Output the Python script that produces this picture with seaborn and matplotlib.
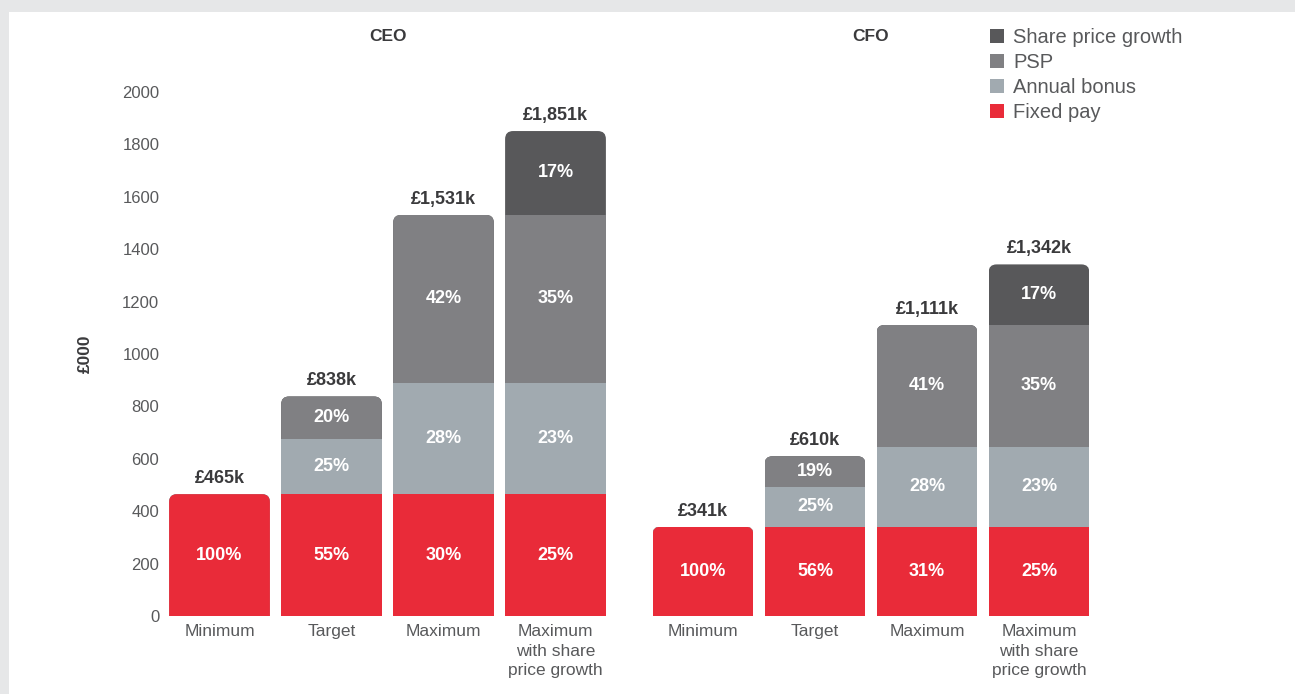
import numpy as np
import pandas as pd
import seaborn as sns
import matplotlib.pyplot as plt
from matplotlib.patches import FancyBboxPatch, Rectangle, Patch

# ---- data (£000) ----
categories = ["Minimum", "Target", "Maximum", "Maximum\nwith share\nprice growth"]
components = ["Fixed pay", "Annual bonus", "PSP", "Share price growth"]

ceo_fixed = [465, 465, 465, 465]
ceo_bonus = [0, 210, 424, 424]
ceo_psp = [0, 163, 642, 642]
ceo_share = [0, 0, 0, 320]
ceo_totals = ["£465k", "£838k", "£1,531k", "£1,851k"]
ceo_fixed_pct = ["100%", "55%", "30%", "25%"]
ceo_bonus_pct = ["", "25%", "28%", "23%"]
ceo_psp_pct = ["", "20%", "42%", "35%"]
ceo_share_pct = ["", "", "", "17%"]

cfo_fixed = [341, 341, 341, 341]
cfo_bonus = [0, 152, 305, 305]
cfo_psp = [0, 117, 465, 465]
cfo_share = [0, 0, 0, 231]
cfo_totals = ["£341k", "£610k", "£1,111k", "£1,342k"]
cfo_fixed_pct = ["100%", "56%", "31%", "25%"]
cfo_bonus_pct = ["", "25%", "28%", "23%"]
cfo_psp_pct = ["", "19%", "41%", "35%"]
cfo_share_pct = ["", "", "", "17%"]

colors = ["#e92b39", "#a1aab0", "#808083", "#58585a"]
text_grey = "#58595b"
dark = "#3a3a3c"

sns.set_theme(style="white")
plt.rcParams['font.family'] = ['Liberation Sans', 'DejaVu Sans']

W, H = 1295, 694
fig = plt.figure(figsize=(W / 100, H / 100), dpi=100)
fig.patch.set_facecolor("#e6e7e8")
fig.add_artist(Rectangle((9 / W, 0), 1 - 9 / W, 1 - 12 / H, transform=fig.transFigure,
                         facecolor="white", edgecolor="none", zorder=0))

ax_w, ax_h = 448, 524
ax1 = fig.add_axes([163.5 / W, 78 / H, ax_w / W, ax_h / H])
ax2 = fig.add_axes([647 / W, 78 / H, ax_w / W, ax_h / H])


def draw(ax, parts, pcts, totals, title):
    df = pd.DataFrame(dict(zip(components, parts)))
    cum = df.cumsum(axis=1)
    # layered bars: tallest (cumulative) first
    for i in reversed(range(len(components))):
        sns.barplot(x=categories, y=cum[components[i]].values, color=colors[i],
                    saturation=1, width=0.9, errorbar=None, linewidth=0, ax=ax)
    ax.set_xlim(-0.5, 3.5)
    ax.set_ylim(0, 2000)

    # rounded top corners: clip every layer that reaches the bar's total
    xpp = 4 / ax_w
    ypp = 2000 / ax_h
    r = 8 * xpp
    for cont in ax.containers:
        for j, bar in enumerate(cont.patches):
            total = cum.iloc[j, -1]
            if bar.get_height() < total - 0.5:
                continue
            x0, w = bar.get_x(), bar.get_width()
            clip = FancyBboxPatch((x0, -total), w, 2 * total,
                                  boxstyle=f"round,pad=0,rounding_size={r}",
                                  mutation_aspect=ypp / xpp, transform=ax.transData)
            bar.set_clip_path(clip)

    # percentage labels
    for i in range(len(components)):
        for j in range(len(categories)):
            v = parts[i][j]
            if v > 0:
                base = cum.iloc[j, i] - v
                ax.text(j, base + v / 2, pcts[i][j], ha="center", va="center",
                        color="white", fontsize=13, fontweight="bold")
    # totals
    for j in range(len(categories)):
        ax.annotate(totals[j], (j, cum.iloc[j, -1]), xytext=(0, 5),
                    textcoords="offset points", ha="center", va="bottom",
                    color=dark, fontsize=13, fontweight="bold")

    ax.text(0.5, 1.105, title, transform=ax.transAxes, ha="center", va="center",
            color=dark, fontsize=12.5, fontweight="bold")
    sns.despine(ax=ax, left=True, bottom=True)
    ax.set_ylabel("")
    ax.set_xlabel("")
    ax.tick_params(axis="y", length=0, colors=text_grey, labelsize=12, pad=3)
    ax.tick_params(axis="x", length=0, colors=text_grey, labelsize=12.5, pad=6)
    for lbl in ax.get_xticklabels():
        lbl.set_linespacing(1.35)
        lbl.set_va("top")


draw(ax1, [ceo_fixed, ceo_bonus, ceo_psp, ceo_share],
     [ceo_fixed_pct, ceo_bonus_pct, ceo_psp_pct, ceo_share_pct], ceo_totals, "CEO")
draw(ax2, [cfo_fixed, cfo_bonus, cfo_psp, cfo_share],
     [cfo_fixed_pct, cfo_bonus_pct, cfo_psp_pct, cfo_share_pct], cfo_totals, "CFO")

ax1.set_yticks(range(0, 2001, 200))
ax2.set_yticks([])

fig.text(85 / W, 1 - 354 / H, "£000", rotation=90, ha="center", va="center",
         color=dark, fontsize=12.5, fontweight="bold")

handles = [Patch(facecolor=colors[i], edgecolor="none", label=components[i])
           for i in reversed(range(len(components)))]
fig.legend(handles=handles, loc="upper left", bbox_to_anchor=(982 / W, 1 - 20 / H),
           frameon=False, handlelength=0.7, handleheight=0.7, handletextpad=0.45,
           labelspacing=0.3, fontsize=14.5, labelcolor=text_grey, borderaxespad=0)

fig.savefig("out.png", dpi=100, facecolor=fig.get_facecolor())
